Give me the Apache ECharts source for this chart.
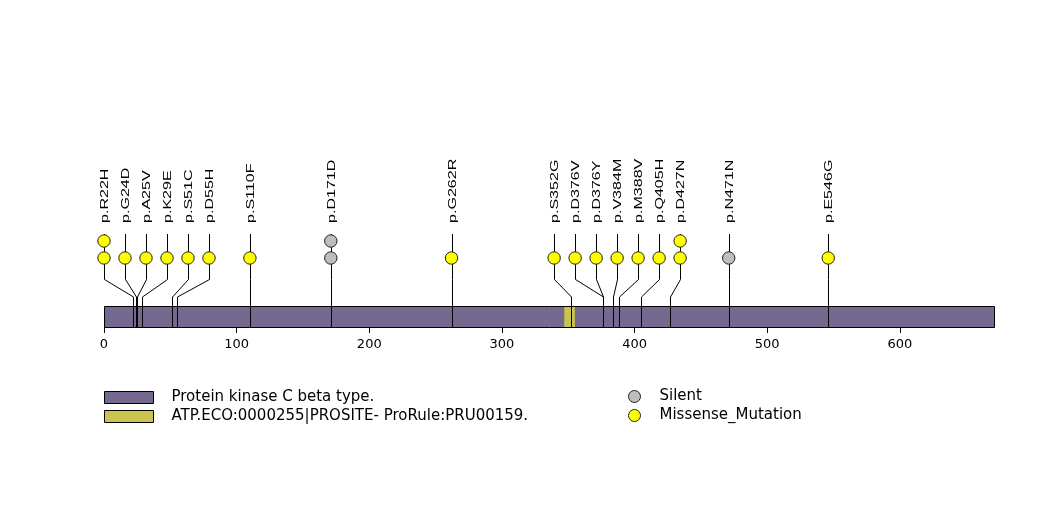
<!DOCTYPE html>
<html>
<head>
<meta charset="utf-8">
<script src="https://cdn.jsdelivr.net/npm/echarts@6/dist/echarts.min.js"></script>
<style>
  html, body { margin: 0; padding: 0; background: #ffffff; }
  #chart { width: 1047px; height: 524px; }
</style>
</head>
<body>
<div id="chart"></div>
<script>
// ---------------- data ----------------
const proteinLength = 671;
const domainNames = ['Protein kinase C beta type.'];
const domainStart = [0];
const domainEnd = [671];
const motifNames = ['ATP.ECO:0000255|PROSITE- ProRule:PRU00159.'];
const motifStart = [347];
const motifEnd = [355];

const mutationLabels = ['p.R22H', 'p.G24D', 'p.A25V', 'p.K29E', 'p.S51C', 'p.D55H', 'p.S110F', 'p.D171D',
  'p.G262R', 'p.S352G', 'p.D376V', 'p.D376Y', 'p.V384M', 'p.M388V', 'p.Q405H', 'p.D427N', 'p.N471N', 'p.E546G'];
const mutationPositions = [22, 24, 25, 29, 51, 55, 110, 171, 262, 352, 376, 376, 384, 388, 405, 427, 471, 546];
const mutationTypes = ['Missense_Mutation', 'Missense_Mutation', 'Missense_Mutation', 'Missense_Mutation',
  'Missense_Mutation', 'Missense_Mutation', 'Missense_Mutation', 'Silent', 'Missense_Mutation',
  'Missense_Mutation', 'Missense_Mutation', 'Missense_Mutation', 'Missense_Mutation', 'Missense_Mutation',
  'Missense_Mutation', 'Missense_Mutation', 'Silent', 'Missense_Mutation'];
const mutationCounts = [2, 1, 1, 1, 1, 1, 1, 2, 1, 1, 1, 1, 1, 1, 1, 2, 1, 1];
const typeNames = ['Silent', 'Missense_Mutation'];
const tickValues = [0, 100, 200, 300, 400, 500, 600];

// ---------------- style ----------------
const GRID_LEFT = 104, GRID_WIDTH = 890, AXIS_Y = 327;
const typeColors = { 'Silent': '#bebebe', 'Missense_Mutation': '#ffff00' };
const domainColor = '#766990';
const motifColor = '#c9c450';
const LABEL_FONT = 'Liberation Sans';
const TEXT_FONT = 'DejaVu Sans';

// lollipop head layout: spread heads apart by a minimum pixel gap (in axis units)
const headGap = 21 / (GRID_WIDTH / proteinLength);
function spread(vals, gap, lo, hi) {
  let clusters = vals.map(v => ({ items: [v], start: v }));
  const place = c => {
    const n = c.items.length;
    const m = c.items.reduce((a, b) => a + b, 0) / n;
    c.start = Math.min(Math.max(m - (n - 1) * gap / 2, lo), hi - (n - 1) * gap);
  };
  let changed = true;
  while (changed) {
    changed = false;
    clusters.forEach(place);
    for (let k = 0; k < clusters.length - 1; k++) {
      const a = clusters[k], b = clusters[k + 1];
      if (a.start + a.items.length * gap > b.start + 1e-9) {
        clusters.splice(k, 2, { items: a.items.concat(b.items), start: 0 });
        changed = true;
        break;
      }
    }
  }
  const out = [];
  clusters.forEach(c => c.items.forEach((v, j) => out.push(c.start + j * gap)));
  return out;
}
const headPositions = spread(mutationPositions, headGap, 0, proteinLength);

function mutationSeries(typeName) {
  const idx = mutationPositions.map((p, i) => i).filter(i => mutationTypes[i] === typeName);
  return {
    type: 'custom',
    name: typeName,
    clip: false,
    itemStyle: { color: typeColors[typeName], borderColor: '#222' },
    data: idx.map(i => [mutationPositions[i], headPositions[i], mutationCounts[i]]),
    renderItem: function (params, api) {
      const i = idx[params.dataIndex];
      const base = api.coord([0, 0])[1];
      const xa = Math.round(api.coord([api.value(0), 0])[0]) + 0.5;
      const xd = api.coord([api.value(1), 0])[0];
      const xdl = Math.round(xd) + 0.5;
      const n = api.value(2);
      const children = [{
        type: 'polyline',
        shape: { points: [[xa, base], [xa, base - 30], [xdl, base - 47.5], [xdl, base - 93]] },
        style: { stroke: '#000', lineWidth: 1, fill: null }
      }];
      for (let k = 0; k < n; k++) {
        children.push({
          type: 'circle',
          shape: { cx: xd, cy: base - 69 - 17 * k, r: 6.2 },
          style: { fill: typeColors[typeName], stroke: '#222', lineWidth: 1 }
        });
      }
      children.push({
        type: 'text',
        x: xd + 1,
        y: base - 104,
        rotation: Math.PI / 2,
        scaleX: 1.46,
        style: {
          text: mutationLabels[i], fontFamily: LABEL_FONT, fontSize: 11, fill: '#000',
          align: 'left', verticalAlign: 'middle'
        }
      });
      return { type: 'group', children: children };
    }
  };
}

const chart = echarts.init(document.getElementById('chart'), null, { renderer: 'canvas' });
chart.setOption({
  backgroundColor: '#ffffff',
  animation: false,
  grid: { left: GRID_LEFT, width: GRID_WIDTH, top: 20, bottom: 524 - AXIS_Y, containLabel: false },
  xAxis: {
    type: 'value', min: 0, max: proteinLength, interval: 100,
    axisLine: { show: false },
    splitLine: { show: false },
    axisTick: { show: true, length: 6, customValues: tickValues, lineStyle: { color: '#000', width: 1 } },
    axisLabel: { customValues: tickValues, margin: 11, fontFamily: TEXT_FONT, fontSize: 13, color: '#000' }
  },
  yAxis: { type: 'value', min: 0, max: 1, show: false },
  legend: [
    {
      orient: 'vertical', left: 104, top: 390, padding: 0, itemWidth: 49, itemHeight: 12, itemGap: 4,
      selectedMode: false,
      data: domainNames.concat(motifNames).map(n => ({ name: n, icon: 'rect' })),
      itemStyle: { borderColor: '#000', borderWidth: 1 },
      textStyle: { fontFamily: TEXT_FONT, fontSize: 15, color: '#000', padding: [0, 0, 0, 13] }
    },
    {
      orient: 'vertical', left: 628, top: 389, padding: 0, itemWidth: 12, itemHeight: 12, itemGap: 4,
      selectedMode: false,
      data: typeNames.map(n => ({ name: n, icon: 'circle' })),
      itemStyle: { borderColor: '#222', borderWidth: 1 },
      textStyle: { fontFamily: TEXT_FONT, fontSize: 15, color: '#000', padding: [0, 0, 0, 14] }
    }
  ],
  series: [
    {
      type: 'custom', name: domainNames[0], clip: false,
      itemStyle: { color: domainColor },
      data: domainStart.map((s, i) => [s, domainEnd[i]]),
      renderItem: function (params, api) {
        const base = api.coord([0, 0])[1];
        const x0 = api.coord([api.value(0), 0])[0];
        const x1 = api.coord([api.value(1), 0])[0];
        return {
          type: 'rect',
          shape: { x: Math.round(x0) + 0.5, y: base - 21 + 0.5, width: Math.round(x1 - x0), height: 21 },
          style: { fill: domainColor, stroke: '#000', lineWidth: 1 }
        };
      }
    },
    {
      type: 'custom', name: motifNames[0], clip: false,
      itemStyle: { color: motifColor },
      data: motifStart.map((s, i) => [s, motifEnd[i]]),
      renderItem: function (params, api) {
        const base = api.coord([0, 0])[1];
        const x0 = api.coord([api.value(0), 0])[0];
        const x1 = api.coord([api.value(1), 0])[0];
        return {
          type: 'rect',
          shape: { x: x0, y: base - 20, width: x1 - x0, height: 20 },
          style: { fill: motifColor, stroke: null }
        };
      }
    },
    mutationSeries('Silent'),
    mutationSeries('Missense_Mutation')
  ]
});
</script>
</body>
</html>
